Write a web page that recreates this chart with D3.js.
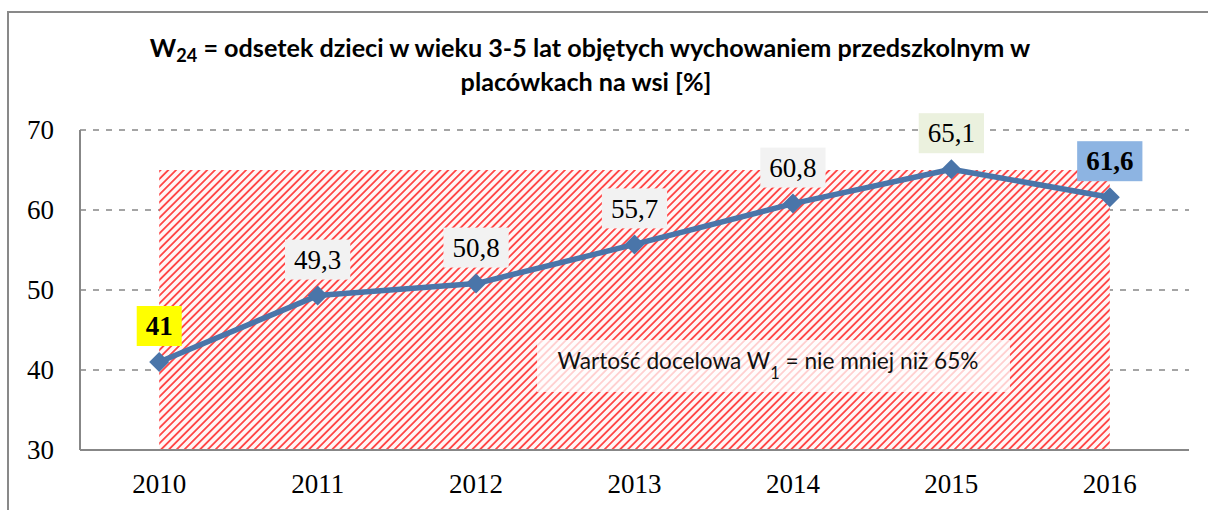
<!DOCTYPE html>
<html>
<head>
<meta charset="utf-8">
<script src="https://cdn.jsdelivr.net/npm/d3@7"></script>
<style>
  body { margin: 0; background: #fff; }
  svg { display: block; }
</style>
</head>
<body>
<svg id="chart" width="1208" height="510"></svg>
<script>
// data
const years = ["2010", "2011", "2012", "2013", "2014", "2015", "2016"];
const values = [41, 49.3, 50.8, 55.7, 60.8, 65.1, 61.6];
const yTicks = [30, 40, 50, 60, 70];
const labelFills = ["#ffff00", "#f2f2f2", "#f2f2f2", "#f2f2f2", "#f2f2f2", "#ebf1de", "#8db4e2"];
const labelBold = [true, false, false, false, false, false, true];
const targetValue = 65;

const serif = "'Liberation Serif', serif";
const sans = "Lato, sans-serif";
const numSize = "27px";

const svg = d3.select("#chart");
const margin = {top: 130, right: 19, bottom: 60, left: 80};
const width = 1208 - margin.left - margin.right;
const height = 510 - margin.top - margin.bottom;

// outer frame
svg.append("rect")
   .attr("x", 8).attr("y", 12)
   .attr("width", 1220).attr("height", 520)
   .attr("fill", "none")
   .attr("stroke", "#898989")
   .attr("stroke-width", 2);

// hatch pattern
const defs = svg.append("defs");
const pat = defs.append("pattern")
   .attr("id", "hatch")
   .attr("patternUnits", "userSpaceOnUse")
   .attr("width", 5.5).attr("height", 5.5)
   .attr("patternTransform", "rotate(45)");
pat.append("rect").attr("width", 5.5).attr("height", 5.5).attr("fill", "#fff6f6");
pat.append("line")
   .attr("x1", 2.75).attr("y1", 0).attr("x2", 2.75).attr("y2", 5.5)
   .attr("stroke", "#ff1010").attr("stroke-width", 1.4);

const g = svg.append("g")
   .attr("transform", `translate(${margin.left}, ${margin.top})`);

const x = d3.scalePoint()
   .domain(years)
   .range([0, width])
   .padding(0.5);

const y = d3.scaleLinear()
   .domain([30, 70])
   .range([height, 0]);

// gridlines
g.selectAll(".grid")
   .data(yTicks.filter(d => d > 30))
   .enter().append("line")
   .attr("x1", 0).attr("x2", width)
   .attr("y1", d => y(d)).attr("y2", d => y(d))
   .attr("stroke", "#878787")
   .attr("stroke-width", 1.5)
   .attr("stroke-dasharray", "6,7");

// target area
g.append("rect")
   .attr("x", x(years[0]))
   .attr("y", y(targetValue))
   .attr("width", x(years[years.length - 1]) - x(years[0]))
   .attr("height", y(30) - y(targetValue))
   .attr("fill", "url(#hatch)");

// axes
g.append("line")
   .attr("x1", 0).attr("x2", 0)
   .attr("y1", 0).attr("y2", height)
   .attr("stroke", "#878787").attr("stroke-width", 2);
g.append("line")
   .attr("x1", 0).attr("x2", width)
   .attr("y1", height).attr("y2", height)
   .attr("stroke", "#878787").attr("stroke-width", 2);

// y tick labels
g.selectAll(".ylab")
   .data(yTicks)
   .enter().append("text")
   .attr("x", -26)
   .attr("y", d => y(d))
   .attr("dy", "0.34em")
   .attr("text-anchor", "end")
   .style("font-family", serif)
   .style("font-size", numSize)
   .attr("fill", "#000")
   .text(d => d);

// x tick labels
g.selectAll(".xlab")
   .data(years)
   .enter().append("text")
   .attr("x", d => x(d))
   .attr("y", height + 43)
   .attr("text-anchor", "middle")
   .style("font-family", serif)
   .style("font-size", numSize)
   .attr("fill", "#000")
   .text(d => d);

// fit text to a given width by scaling font-size
function fitWidth(sel, target) {
   const w = sel.node().getComputedTextLength();
   const fs = parseFloat(sel.style("font-size"));
   sel.style("font-size", (fs * target / w) + "px");
   sel.selectAll("tspan.sub").style("font-size", (fs * target / w * 0.72) + "px");
}

// annotation box
const note = g.append("g");
note.append("rect")
   .attr("x", 457).attr("y", 210)
   .attr("width", 473).attr("height", 52)
   .attr("fill", "#ffffff").attr("fill-opacity", 0.75);
const noteText = note.append("text")
   .attr("x", 688).attr("y", 239)
   .attr("text-anchor", "middle")
   .style("font-family", sans)
   .style("font-size", "21px")
   .attr("fill", "#111");
noteText.append("tspan").text("Wartość docelowa W");
noteText.append("tspan").attr("class", "sub").attr("dy", 10).style("font-size", "16px").text("1");
noteText.append("tspan").attr("dy", -10).text(" = nie mniej niż 65%");
fitWidth(noteText, 422);

// line
const pts = years.map((d, i) => [x(d), y(values[i])]);
g.append("path")
   .datum(pts)
   .attr("d", d3.line())
   .attr("fill", "none")
   .attr("stroke", "#4a75a9")
   .attr("stroke-width", 5.5)
   .attr("stroke-linejoin", "round");

g.selectAll(".marker")
   .data(pts)
   .enter().append("path")
   .attr("d", d => `M${d[0]},${d[1] - 10}L${d[0] + 10},${d[1]}L${d[0]},${d[1] + 10}L${d[0] - 10},${d[1]}Z`)
   .attr("fill", "#4a75a9");

// data labels
const labels = g.selectAll(".lbl")
   .data(values)
   .enter().append("g")
   .attr("transform", (d, i) => `translate(${x(years[i])}, ${y(d) - 36})`);

labels.append("text")
   .attr("text-anchor", "middle")
   .attr("dy", "0.34em")
   .style("font-family", serif)
   .style("font-size", numSize)
   .style("font-weight", (d, i) => labelBold[i] ? "bold" : "normal")
   .attr("fill", "#000")
   .text(d => String(d).replace(".", ","));

labels.each(function(d, i) {
   const t = d3.select(this).select("text");
   const w = t.node().getComputedTextLength();
   d3.select(this).insert("rect", "text")
      .attr("x", -w / 2 - 9).attr("y", -20)
      .attr("width", w + 18).attr("height", 40)
      .attr("fill", labelFills[i]);
});

// title
const t1 = svg.append("text")
   .attr("x", 590).attr("y", 57)
   .attr("text-anchor", "middle")
   .style("font-family", sans)
   .style("font-weight", "bold")
   .style("font-size", "20px")
   .attr("fill", "#000");
t1.append("tspan").text("W");
t1.append("tspan").attr("class", "sub").attr("dy", 5).style("font-size", "14px").text("24");
t1.append("tspan").attr("dy", -5).text(" = odsetek dzieci w wieku 3-5 lat objętych wychowaniem przedszkolnym w");
fitWidth(t1, 880);

svg.append("text")
   .attr("x", 586).attr("y", 91)
   .attr("text-anchor", "middle")
   .style("font-family", sans)
   .style("font-weight", "bold")
   .style("font-size", t1.style("font-size"))
   .attr("fill", "#000")
   .text("placówkach na wsi [%]");
</script>
</body>
</html>
